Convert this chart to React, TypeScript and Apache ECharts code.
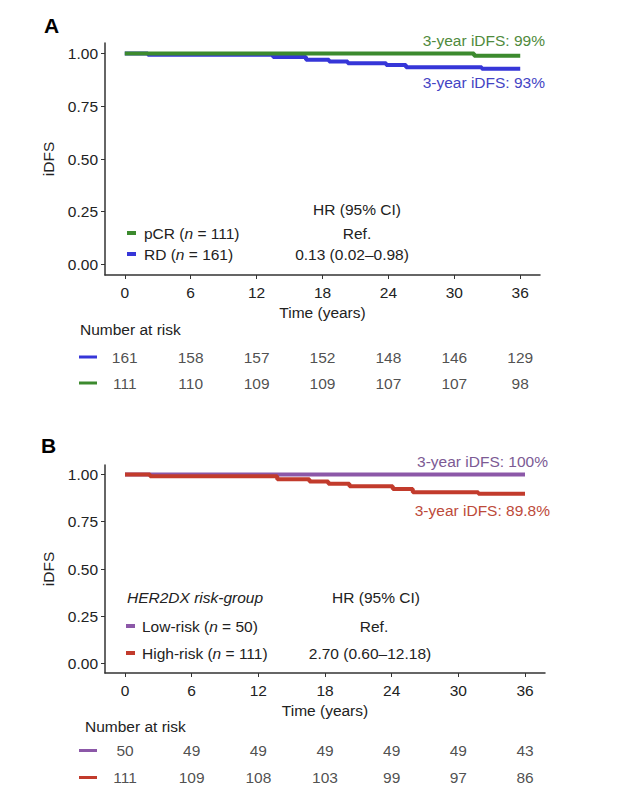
import React, { useEffect, useRef } from "react";
import * as echarts from "echarts";

const timeTicks = [0, 6, 12, 18, 24, 30, 36];
const yTicks = [0, 0.25, 0.5, 0.75, 1];

// Panel A: KM steps
const pcrT = [0, 31.8, 36];
const pcrS = [1, 0.99, 0.99];
const rdT = [0, 2.1, 13.5, 16.5, 18.6, 20.3, 23.8, 25.6, 32.5, 36];
const rdS = [1, 0.994, 0.984, 0.971, 0.962, 0.954, 0.946, 0.935, 0.928, 0.928];

// Panel B: KM steps
const lowT = [0, 36];
const lowS = [1, 1];
const highT = [0, 2.25, 13.7, 16.6, 18.3, 20.2, 24.1, 25.9, 31.8, 36];
const highS = [1, 0.991, 0.975, 0.963, 0.951, 0.937, 0.923, 0.906, 0.898, 0.898];

// Number at risk
const riskRD = [161, 158, 157, 152, 148, 146, 129];
const riskPCR = [111, 110, 109, 109, 107, 107, 98];
const riskLow = [50, 49, 49, 49, 49, 49, 43];
const riskHigh = [111, 109, 108, 103, 99, 97, 86];

const C = {
  green: "#3c8a2e",
  blue: "#3636d8",
  purple: "#8c58a8",
  red: "#c23b2c",
  greenTxt: "#4f8a3c",
  blueTxt: "#4444c4",
  purpleTxt: "#7c5a94",
  redTxt: "#bd4a3a",
};

const FONT = "Liberation Sans, Arial, Helvetica, sans-serif";
const FS = 15.5;
const TXT = "#222";

const pairs = (t: number[], s: number[]) => t.map((v, i) => [v, s[i]]);

function plotX(gi: number) {
  return {
    gridIndex: gi,
    type: "value",
    min: -1.8,
    max: 37.8,
    name: "Time (years)",
    nameLocation: "middle",
    nameGap: 29,
    nameTextStyle: { fontFamily: FONT, fontSize: FS, color: TXT },
    axisLine: { onZero: false, lineStyle: { color: "#333", width: 1.5 } },
    axisTick: { show: true, customValues: timeTicks, length: 4, lineStyle: { color: "#333" } },
    axisLabel: { customValues: timeTicks, margin: 9, fontFamily: FONT, fontSize: FS, color: TXT },
    splitLine: { show: false },
  };
}
function plotY(gi: number) {
  return {
    gridIndex: gi,
    type: "value",
    min: -0.05,
    max: 1.05,
    name: "iDFS",
    nameLocation: "middle",
    nameGap: 47,
    nameRotate: 90,
    nameTextStyle: { fontFamily: FONT, fontSize: FS, color: TXT },
    axisLine: { show: true, onZero: false, lineStyle: { color: "#333", width: 1.5 } },
    axisTick: { show: true, customValues: yTicks, length: 4, lineStyle: { color: "#333" } },
    axisLabel: {
      customValues: yTicks,
      margin: 7,
      fontFamily: FONT,
      fontSize: FS,
      color: TXT,
      formatter: (v: number) => v.toFixed(2),
    },
    splitLine: { show: false },
  };
}
function tableX(gi: number) {
  return {
    gridIndex: gi,
    type: "value",
    min: -1.8,
    max: 37.8,
    show: false,
  };
}
function tableY(gi: number, cats: string[], colors: Record<string, string>) {
  const rich: any = {};
  cats.forEach((c) => {
    rich[c] = { width: 18, height: 3, backgroundColor: colors[c], fontSize: 1, lineHeight: 3 };
  });
  return {
    gridIndex: gi,
    type: "category",
    data: cats,
    axisLine: { show: false },
    axisTick: { show: false },
    splitLine: { show: false },
    axisLabel: { margin: 8, formatter: (v: string) => `{${v}| }`, rich },
  };
}

function kmSeries(name: string, xi: number, data: number[][], color: string, z: number) {
  return {
    name,
    type: "line",
    xAxisIndex: xi,
    yAxisIndex: xi,
    step: "end",
    showSymbol: false,
    symbol: "none",
    data,
    z,
    lineStyle: { color, width: 4 },
  };
}
function riskSeries(xi: number, row: number, vals: number[]) {
  return {
    type: "scatter",
    xAxisIndex: xi,
    yAxisIndex: xi,
    symbolSize: 1,
    itemStyle: { color: "rgba(0,0,0,0)" },
    data: vals.map((v, i) => [timeTicks[i], row, v]),
    label: {
      show: true,
      position: "inside",
      formatter: (p: any) => String(p.value[2]),
      fontFamily: FONT,
      fontSize: FS,
      color: TXT,
    },
  };
}

function legendText(x: number, y: number, pre: string, post: string) {
  return {
    type: "text",
    x,
    y,
    style: {
      text: `{r|${pre}}{i|n}{r|${post}}`,
      verticalAlign: "middle",
      rich: {
        r: { fontFamily: FONT, fontSize: FS, fill: TXT },
        i: { fontFamily: FONT, fontSize: FS, fill: TXT, fontStyle: "italic" },
      },
    },
  };
}
function txt(x: number, y: number, text: string, opts: any = {}) {
  return {
    type: "text",
    x,
    y,
    style: {
      text,
      fontFamily: FONT,
      fontSize: FS,
      fill: TXT,
      verticalAlign: "middle",
      align: "left",
      ...opts,
    },
  };
}
function swatch(x: number, y: number, color: string) {
  return { type: "rect", shape: { x, y: y - 2, width: 9, height: 4 }, style: { fill: color } };
}

export default function App() {
  const ref = useRef<HTMLDivElement>(null);
  useEffect(() => {
    if (!ref.current) return;
    const chart = echarts.init(ref.current, null, { renderer: "svg" });
    const option: any = {
      animation: false,
      backgroundColor: "#fff",
      grid: [
        { left: 105, top: 43, width: 435, height: 232 },
        { left: 105, top: 344, width: 435, height: 52 },
        { left: 105, top: 465, width: 440, height: 208 },
        { left: 105, top: 737, width: 440, height: 54 },
      ],
      xAxis: [plotX(0), tableX(1), plotX(2), tableX(3)],
      yAxis: [
        plotY(0),
        tableY(1, ["pCR", "RD"], { pCR: C.green, RD: C.blue }),
        plotY(2),
        tableY(3, ["High", "Low"], { High: C.red, Low: C.purple }),
      ],
      series: [
        kmSeries("RD", 0, pairs(rdT, rdS), C.blue, 2),
        kmSeries("pCR", 0, pairs(pcrT, pcrS), C.green, 3),
        riskSeries(1, 1, riskRD),
        riskSeries(1, 0, riskPCR),
        kmSeries("Low", 2, pairs(lowT, lowS), C.purple, 2),
        kmSeries("High", 2, pairs(highT, highS), C.red, 3),
        riskSeries(3, 1, riskLow),
        riskSeries(3, 0, riskHigh),
      ],
      graphic: [
        txt(44, 25, "A", { fontSize: 21, fontWeight: "bold", fill: "#000" }),
        txt(545, 40, "3-year iDFS: 99%", { align: "right", fill: C.greenTxt }),
        txt(545, 82, "3-year iDFS: 93%", { align: "right", fill: C.blueTxt }),
        swatch(127, 233, C.green),
        legendText(144, 233, "pCR (", " = 111)"),
        swatch(127, 254, C.blue),
        legendText(144, 254, "RD (", " = 161)"),
        txt(357, 209, "HR (95% CI)", { align: "center" }),
        txt(357, 233, "Ref.", { align: "center" }),
        txt(352, 254, "0.13 (0.02\u20130.98)", { align: "center" }),
        txt(80, 329, "Number at risk"),

        txt(41, 445, "B", { fontSize: 21, fontWeight: "bold", fill: "#000" }),
        txt(548, 461, "3-year iDFS: 100%", { align: "right", fill: C.purpleTxt }),
        txt(550, 510, "3-year iDFS: 89.8%", { align: "right", fill: C.redTxt }),
        txt(127, 597, "HER2DX risk-group", { fontStyle: "italic" }),
        txt(376, 597, "HR (95% CI)", { align: "center" }),
        swatch(126, 626, C.purple),
        legendText(142, 626, "Low-risk (", " = 50)"),
        txt(374, 626, "Ref.", { align: "center" }),
        swatch(126, 653, C.red),
        legendText(142, 653, "High-risk (", " = 111)"),
        txt(370, 653, "2.70 (0.60\u201312.18)", { align: "center" }),
        txt(85, 726, "Number at risk"),
      ],
    };
    chart.setOption(option);
    return () => chart.dispose();
  }, []);
  return (
    <div
      ref={ref}
      style={{ position: "fixed", left: 0, top: 0, width: 630, height: 800, background: "#fff" }}
    />
  );
}
